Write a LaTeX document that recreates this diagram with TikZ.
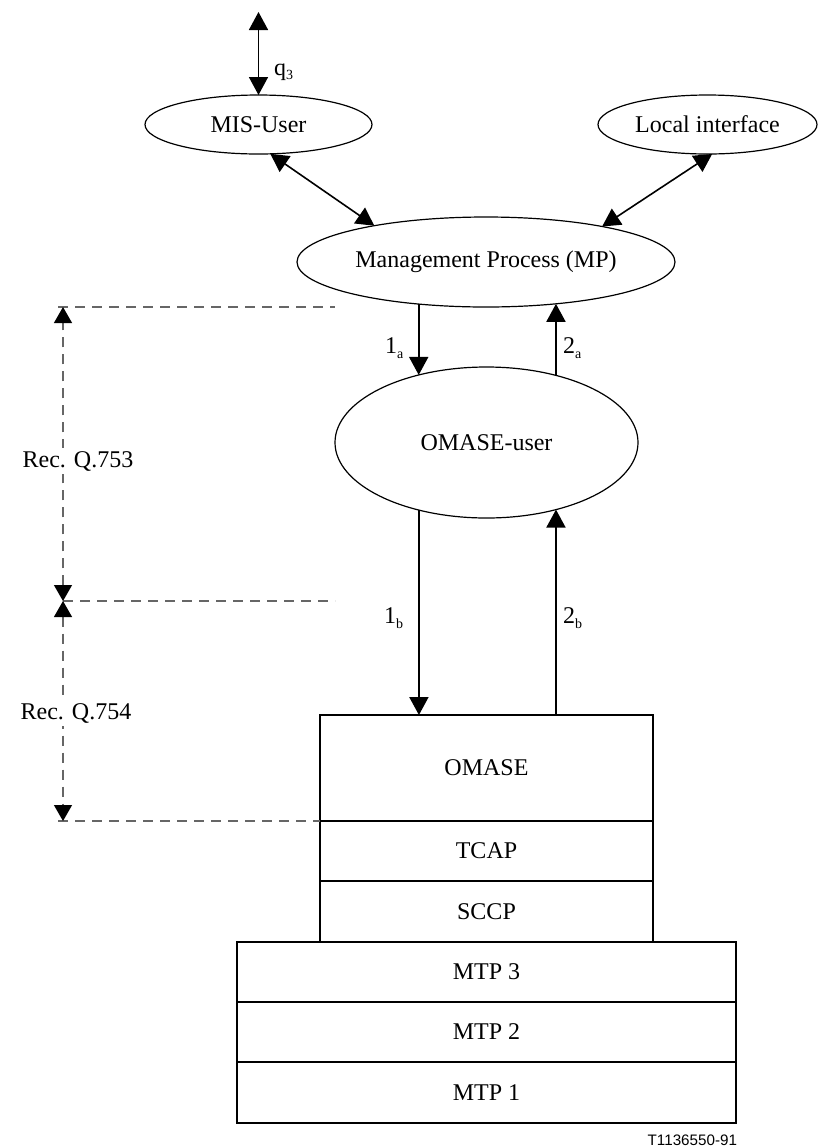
\documentclass[tikz,border=0pt]{standalone}
\usepackage{fontspec}
\setmainfont{Liberation Serif}
\newfontfamily\lsans{Liberation Sans}
\usetikzlibrary{arrows.meta,shapes.geometric}
\newcommand{\subl}[1]{\raisebox{-2.2pt}{\fontsize{7}{7}\selectfont #1}}
\begin{document}
\begin{tikzpicture}[x=0.5pt,y=-0.5pt,
  every node/.style={font=\fontsize{12}{14}\selectfont, outer sep=0pt, inner sep=0pt},
  ell/.style={draw, ellipse, line width=0.6pt},
  layer/.style={draw, rectangle, line width=1pt},
  arr/.style={line width=1pt, -{Triangle[length=9pt,width=9.5pt]}},
  darr/.style={line width=0.8pt, {Triangle[length=9pt,width=9.5pt]}-{Triangle[length=9pt,width=9.5pt]}},
  dimline/.style={draw=black!60, line width=0.6pt, dash pattern=on 5pt off 3.5pt},
  dimarr/.style={dimline, {Triangle[length=8pt,width=9pt,color=black]}-{Triangle[length=8pt,width=9pt,color=black]}},
  lab/.style={anchor=west}
]
\useasboundingbox (0,0) rectangle (818,1147);

% ellipses
\node[ell, minimum width=113.5pt, minimum height=29.5pt] (mis) at (258.5,124.5) {MIS-User};
\node[ell, minimum width=109.5pt, minimum height=29.5pt] (loc) at (707.5,124.5) {Local interface};
\node[ell, minimum width=189pt, minimum height=45pt] (mp) at (486,262) {Management Process (MP)};
\node[ell, minimum width=151.5pt, minimum height=75.5pt] (ou) at (486.5,442.5) {OMASE-user};

% layer boxes
\node[layer, minimum width=166.5pt, minimum height=53pt] (omase) at (486.5,768) {OMASE};
\node[layer, minimum width=166.5pt, minimum height=30pt] (tcap) at (486.5,851) {TCAP};
\node[layer, minimum width=166.5pt, minimum height=30.5pt] (sccp) at (486.5,911.5) {SCCP};
\node[layer, minimum width=249.5pt, minimum height=30pt] (mtp3) at (486.5,972) {MTP 3};
\node[layer, minimum width=249.5pt, minimum height=30pt] (mtp2) at (486.5,1032) {MTP 2};
\node[layer, minimum width=249.5pt, minimum height=30.5pt] (mtp1) at (486.5,1092.25) {MTP 1};

% top external interface
\coordinate (top) at (258.5,12);
\draw[darr] (top) -- (mis.north);
\node[lab] (q3) at (274,72) {q\subl{3}};

% diagonal connections
\draw[darr] (mis.-68.4) -- (mp.162.6);
\draw[darr] (loc.-81.6) -- (mp.17.4);

% MP <-> OMASE-user
\draw[arr] (mp.-148.5) -- (mp.-148.5 |- ou.135.5);
\draw[arr] (ou.44.5) -- (ou.44.5 |- mp.-31.5);
\node[lab] (l1a) at (385,348) {1\subl{a}};
\node[lab] (l2a) at (563,348) {2\subl{a}};

% OMASE-user <-> OMASE
\draw[arr] (ou.-135.5) -- (ou.-135.5 |- omase.north);
\draw[arr] (ou.-44.5 |- omase.north) -- (ou.-44.5);
\node[lab] (l1b) at (384,618) {1\subl{b}};
\node[lab] (l2b) at (563,618) {2\subl{b}};

% dimension lines
\coordinate (d1) at (63,307);
\coordinate (d2) at (63,601);
\coordinate (h1) at (335,307);
\coordinate (h2) at (335,601);
\coordinate (h1s) at (58,307);
\coordinate (h3s) at (58,821);
\coordinate (d3) at (63,821);
\draw[dimline] (h1s) -- (h1);
\draw[dimline] (d2) -- (h2);
\draw[dimline] (h3s) -- (h3s -| omase.south west);
\draw[dimarr] (d2) -- (d1);
\draw[dimarr] (d2) -- (d3);
\node[fill=white, inner sep=1.5pt] (r753) at (78,461) {Rec. Q.753};
\node[fill=white, inner sep=1.5pt] (r754) at (76,713) {Rec. Q.754};

% figure id
\node[anchor=east, font=\lsans\fontsize{7.6}{9}\selectfont] (fid) at (737,1140) {T1136550-91};
\end{tikzpicture}
\end{document}
